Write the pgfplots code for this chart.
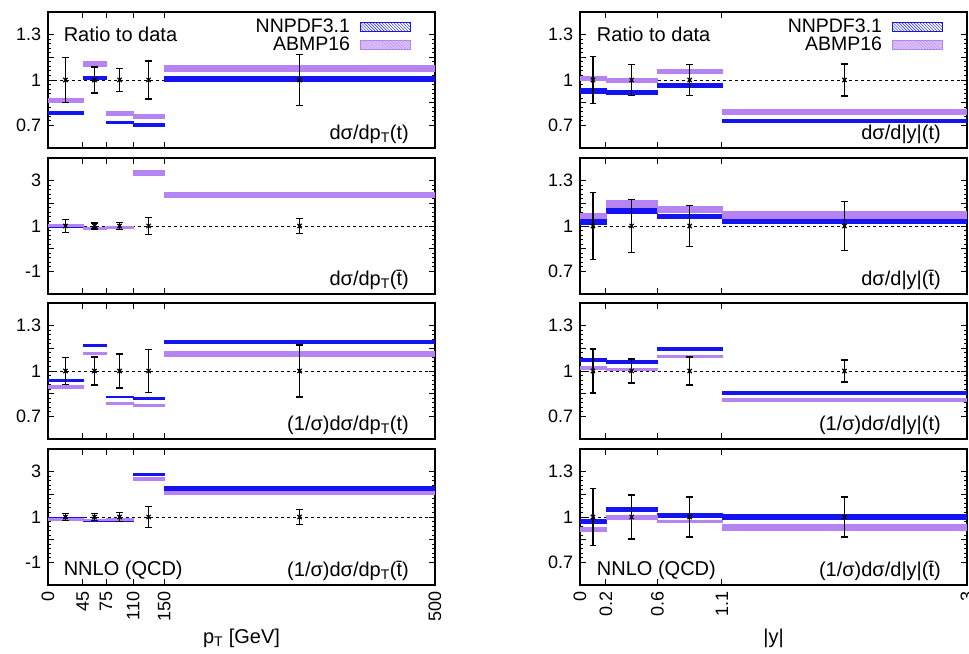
\documentclass[border=0pt]{standalone}
\usepackage{fontspec}
\setmainfont{Liberation Sans}
\usepackage{pgfplots}
\pgfplotsset{compat=1.18}
\usetikzlibrary{patterns}
\definecolor{nnblue}{RGB}{20,20,240}
\definecolor{abmp}{RGB}{182,132,242}

\newcommand\bN[4]{\addplot[nnblue, fill=nnblue, line width=0.4bp, forget plot] coordinates {(#1,#3) (#2,#3) (#2,#4) (#1,#4)} -- cycle;}
\newcommand\bA[4]{\addplot[abmp, fill=abmp, line width=0.4bp, forget plot] coordinates {(#1,#3) (#2,#3) (#2,#4) (#1,#4)} -- cycle;}
\newcommand\pts[1]{\addplot[black, only marks, mark=x, mark size=3bp, mark options={line width=1.2bp}, forget plot,
  error bars/.cd, y dir=both, y explicit, error bar style={line width=1.5bp},
  error mark options={rotate=90, mark size=3.2bp, line width=1.5bp}] coordinates {#1};}
\newcommand\refline[1]{\addplot[black, dashed, line width=0.7bp, forget plot] coordinates {(0,1) (#1,1)};}

\pgfplotsset{
  panel/.style={width=387bp, height=136bp, scale only axis, anchor=south west,
    axis line style={line width=1.2bp}, every tick/.style={black, line width=0.9bp},
    major tick length=6bp, minor tick length=3bp, tick align=inside,
    xtick pos=both, ytick pos=both, xticklabel pos=lower, yticklabel pos=left,
    ticklabel style={font=\fontsize{18bp}{20bp}\selectfont},
    /pgf/number format/assume math mode=true},
  typeA/.style={ymin=0.55, ymax=1.45, ytick={0.7,0.85,1,1.15,1.3}, yticklabels={0.7,,1,,1.3}, minor y tick num=4},
  typeB/.style={ymin=-2, ymax=4, ytick={-1,0,1,2,3}, yticklabels={-1,,1,,3}, minor y tick num=4},
  ptx/.style={xmin=0, xmax=500, xtick={0,45,75,110,150,500}},
  yx/.style={xmin=0, xmax=3, xtick={0,0.2,0.6,1.1,3}},
  nolab/.style={xticklabels={}},
  rot/.style={xticklabel style={rotate=90, anchor=east}},
  leg/.style={legend style={draw=none, fill=none, inner sep=0pt, at={(axis description cs:0.937,0.955)}, anchor=north east,
    cells={anchor=east}, nodes={inner sep=0.6bp}, font=\fontsize{19.5bp}{21bp}\selectfont, row sep=0bp, column sep=9bp}, legend plot pos=right},
}
\newcommand\legs{%
\addlegendimage{legend image code/.code={\draw[nnblue,line width=0.8bp,pattern=north west lines,pattern color=nnblue] (0bp,-4.5bp) rectangle (50bp,4.5bp);}}
\addlegendentry{NNPDF3.1}
\addlegendimage{legend image code/.code={\fill[abmp!45] (0bp,-4.5bp) rectangle (50bp,4.5bp); \draw[abmp,line width=0.8bp,pattern=north west lines,pattern color=abmp] (0bp,-4.5bp) rectangle (50bp,4.5bp);}}
\addlegendentry{ABMP16}}
\newcommand\lab[1]{\node[anchor=base east] at (rel axis cs:0.95,0.06) {#1};}

\begin{document}
\fontsize{20bp}{24bp}\selectfont
\begin{tikzpicture}
% ---------------- left column ----------------
\begin{axis}[panel, typeA, ptx, nolab, leg, at={(48bp,506bp)}]
\refline{500}
\bN{0}{45}{0.775}{0.793}\bN{45}{75}{1.004}{1.022}\bN{75}{110}{0.714}{0.730}\bN{110}{150}{0.696}{0.712}\bN{150}{500}{0.991}{1.023}
\bA{0}{45}{0.853}{0.881}\bA{45}{75}{1.091}{1.123}\bA{75}{110}{0.768}{0.796}\bA{110}{150}{0.746}{0.774}\bA{150}{500}{1.057}{1.095}
\pts{(22.5,1) +- (0,0.15) (60,1) +- (0,0.085) (92.5,1) +- (0,0.077) (130,1) +- (0,0.125) (325,1) +- (0,0.17)}
\legs
\node[anchor=base west] at (rel axis cs:0.023,0.78) {Ratio to data};
\lab{dσ/dp\textsubscript{T}(t)}
\end{axis}

\begin{axis}[panel, typeB, ptx, nolab, at={(48bp,360bp)}]
\refline{500}
\bN{0}{45}{0.955}{0.995}\bN{45}{75}{0.85}{0.90}\bN{75}{110}{0.90}{0.95}\bN{110}{150}{3.24}{3.30}\bN{150}{500}{2.32}{2.44}
\bA{0}{45}{0.985}{1.095}\bA{45}{75}{0.86}{0.93}\bA{75}{110}{0.92}{0.99}\bA{110}{150}{3.26}{3.48}\bA{150}{500}{2.29}{2.49}
\pts{(22.5,1) +- (0,0.28) (60,1) +- (0,0.13) (92.5,1) +- (0,0.16) (130,1) +- (0,0.38) (325,1) +- (0,0.32)}
\lab{dσ/dp\textsubscript{T}(t̄)}
\end{axis}

\begin{axis}[panel, typeA, ptx, nolab, at={(48bp,215bp)}]
\refline{500}
\bN{0}{45}{0.931}{0.945}\bN{45}{75}{1.164}{1.176}\bN{75}{110}{0.824}{0.836}\bN{110}{150}{0.814}{0.828}\bN{150}{500}{1.182}{1.206}
\bA{0}{45}{0.889}{0.903}\bA{45}{75}{1.112}{1.122}\bA{75}{110}{0.779}{0.793}\bA{110}{150}{0.766}{0.780}\bA{150}{500}{1.098}{1.128}
\pts{(22.5,1) +- (0,0.09) (60,1) +- (0,0.093) (92.5,1) +- (0,0.113) (130,1) +- (0,0.142) (325,1) +- (0,0.173)}
\lab{(1/σ)dσ/dp\textsubscript{T}(t)}
\end{axis}

\begin{axis}[panel, typeB, ptx, rot, xticklabels={0,45,75,110,150,500}, at={(48bp,69bp)},
  xlabel={p\textsubscript{T} [GeV]}, xlabel style={at={(axis description cs:0.5,-0.43)}, anchor=base}]
\refline{500}
\bN{0}{45}{0.95}{1.0}\bN{45}{75}{0.80}{0.86}\bN{75}{110}{0.83}{0.88}\bN{110}{150}{2.84}{2.94}\bN{150}{500}{2.20}{2.35}
\bA{0}{45}{0.87}{0.945}\bA{45}{75}{0.86}{0.89}\bA{75}{110}{0.88}{0.93}\bA{110}{150}{2.64}{2.74}\bA{150}{500}{2.0}{2.16}
\pts{(22.5,1) +- (0,0.165) (60,1) +- (0,0.165) (92.5,1) +- (0,0.2) (130,1) +- (0,0.46) (325,1) +- (0,0.33)}
\node[anchor=base west] at (rel axis cs:0.023,0.073) {NNLO (QCD)};
\lab{(1/σ)dσ/dp\textsubscript{T}(t̄)}
\end{axis}

% ---------------- right column ----------------
\begin{axis}[panel, typeA, yx, nolab, leg, at={(580bp,506bp)}]
\refline{3}
\bN{0}{0.2}{0.914}{0.944}\bN{0.2}{0.6}{0.906}{0.930}\bN{0.6}{1.1}{0.954}{0.976}\bN{1.1}{3}{0.718}{0.738}
\bA{0}{0.2}{0.998}{1.028}\bA{0.2}{0.6}{0.988}{1.012}\bA{0.6}{1.1}{1.042}{1.072}\bA{1.1}{3}{0.776}{0.808}
\pts{(0.1,1) +- (0,0.157) (0.4,1) +- (0,0.104) (0.85,1) +- (0,0.104) (2.05,1) +- (0,0.105)}
\legs
\node[anchor=base west] at (rel axis cs:0.026,0.78) {Ratio to data};
\lab{dσ/d|y|(t)}
\end{axis}

\begin{axis}[panel, typeA, yx, nolab, at={(580bp,360bp)}]
\refline{3}
\bN{0}{0.2}{1.013}{1.044}\bN{0.2}{0.6}{1.086}{1.117}\bN{0.6}{1.1}{1.051}{1.079}\bN{1.1}{3}{1.02}{1.05}
\bA{0}{0.2}{1.049}{1.088}\bA{0.2}{0.6}{1.124}{1.168}\bA{0.6}{1.1}{1.09}{1.128}\bA{1.1}{3}{1.05}{1.097}
\pts{(0.1,1) +- (0,0.223) (0.4,1) +- (0,0.177) (0.85,1) +- (0,0.137) (2.05,1) +- (0,0.161)}
\lab{dσ/d|y|(t̄)}
\end{axis}

\begin{axis}[panel, typeA, yx, nolab, at={(580bp,215bp)}]
\refline{3}
\bN{0}{0.2}{1.065}{1.085}\bN{0.2}{0.6}{1.052}{1.072}\bN{0.6}{1.1}{1.136}{1.156}\bN{1.1}{3}{0.844}{0.864}
\bA{0}{0.2}{1.014}{1.030}\bA{0.2}{0.6}{1.005}{1.021}\bA{0.6}{1.1}{1.090}{1.104}\bA{1.1}{3}{0.802}{0.818}
\pts{(0.1,1) +- (0,0.145) (0.4,1) +- (0,0.08) (0.85,1) +- (0,0.094) (2.05,1) +- (0,0.073)}
\lab{(1/σ)dσ/d|y|(t)}
\end{axis}

\begin{axis}[panel, typeA, yx, rot, xticklabels={0,0.2,0.6,1.1,3}, at={(580bp,69bp)},
  xlabel={|y|}, xlabel style={at={(axis description cs:0.5,-0.43)}, anchor=base}]
\refline{3}
\bN{0}{0.2}{0.959}{0.983}\bN{0.2}{0.6}{1.041}{1.065}\bN{0.6}{1.1}{1.001}{1.025}\bN{1.1}{3}{0.986}{1.018}
\bA{0}{0.2}{0.909}{0.931}\bA{0.2}{0.6}{0.986}{1.010}\bA{0.6}{1.1}{0.963}{0.979}\bA{1.1}{3}{0.914}{0.954}
\pts{(0.1,1) +- (0,0.187) (0.4,1) +- (0,0.147) (0.85,1) +- (0,0.132) (2.05,1) +- (0,0.133)}
\node[anchor=base west] at (rel axis cs:0.026,0.073) {NNLO (QCD)};
\lab{(1/σ)dσ/d|y|(t̄)}
\end{axis}
\pgfresetboundingbox
\path (0bp,0bp) rectangle (969bp,654bp);
\end{tikzpicture}
\end{document}
